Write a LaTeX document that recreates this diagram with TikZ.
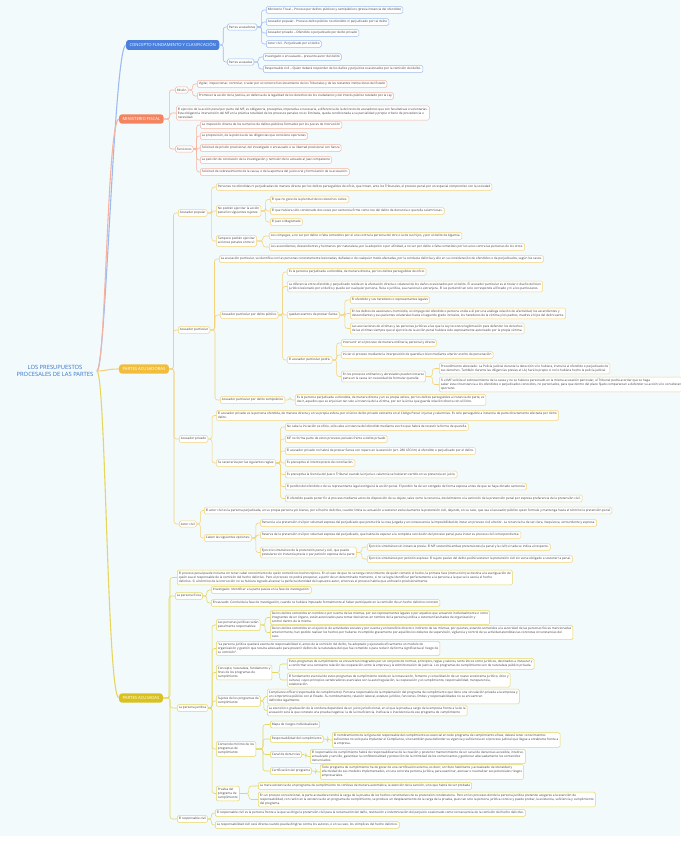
\documentclass[tikz,border=0pt]{standalone}
\usepackage{fontspec}
\setsansfont{Open Sans}
\usetikzlibrary{calc}

\begin{document}
\begin{tikzpicture}[
    x=1pt, y=-1pt,
    every node/.style={font=\sffamily},
    root/.style={align=center, text=rootcol, font=\sffamily\fontsize{5.8}{7.6}\selectfont},
    topic/.style={rounded corners=2.5pt, anchor=west, text=white, inner xsep=3.4pt,
        inner ysep=3pt, font=\sffamily\fontsize{4.2}{4.8}\selectfont},
    leaf/.style={draw, rounded corners=1.5pt, fill=white, line width=0.5pt, anchor=west,
        align=left, text=txtcol, inner xsep=1.6pt, inner ysep=1.9pt,
        font=\sffamily\fontsize{3.1}{4}\selectfont},
    link/.style={rounded corners=2.5pt, line width=0.55pt},
    trunk/.style={line width=1.1pt},
]

\definecolor{bgcol}{HTML}{F2FAFC}
\definecolor{txtcol}{HTML}{3A3A3A}
\definecolor{rootcol}{HTML}{3470C8}
\definecolor{cblue}{HTML}{4A80DC}     % topic fills
\definecolor{corange}{HTML}{F4845F}
\definecolor{cgold}{HTML}{F3BD3C}
\definecolor{cyell}{HTML}{D9C21F}
\definecolor{lblue}{HTML}{9DBBF0}     % lines and borders
\definecolor{lorange}{HTML}{F6B3A0}
\definecolor{lgold}{HTML}{F5D27A}
\definecolor{lyell}{HTML}{E6D65E}

\fill[bgcol] (0,0) rectangle (680,836);
\useasboundingbox (0,0) rectangle (680,848);

% ---------------------------------------------------------------- root and topics
\node[root] (root) at (55,371) {LOS PRESUPUESTOS\\PROCESALES DE LAS PARTES};

\node[topic, fill=cblue]   (concepto)   at (126,45)  {CONCEPTO FUNDAMENTO Y CLASIFICACIÓN};
\node[topic, fill=corange] (fiscal)     at (119,119) {MINISTERIO FISCAL};
\node[topic, fill=cgold]   (acusadoras) at (119,369) {PARTES ACUSADORAS};
\node[topic, fill=cyell]   (acusadas)   at (119,698) {PARTES ACUSADAS};

\foreach \t/\col in {concepto/lblue,fiscal/lorange,acusadoras/lgold,acusadas/lyell}
  \draw[trunk, \col] (root.east) .. controls +(9,0) and +(-12,0) .. (\t.west);

% ---------------------------------------------------------------- concepto
\begin{scope}[leaf/.append style={draw=lblue}]
  \node[leaf] (cAcusadoras) at (227,27) {Partes acusadoras};
  \node[leaf] (cFiscal) at (266,10) {Ministerio Fiscal – Proceso por delitos públicos y semipúblicos (previa instancia del ofendido)};
  \node[leaf] (cPopular) at (266,22) {Acusador popular - Proceso delito público no ofendido ni perjudicado por tal delito};
  \node[leaf] (cPrivado) at (266,33) {Acusador privado – Ofendido o perjudicado por delito privado};
  \node[leaf] (cCivil) at (266,44) {Actor civil - Perjudicado por el delito};
  \node[leaf] (cAcusadas) at (227,62) {Partes acusadas};
  \node[leaf] (cInvestigado) at (263,57) {Investigado o encausado – presunto autor del delito};
  \node[leaf] (cResponsable) at (263,69) {Responsable civil – Quien deberá responder de los daños y perjuicios ocasionados por la comisión del delito.};
\end{scope}

\foreach \p/\c in {concepto/cAcusadoras,concepto/cAcusadas,cAcusadoras/cFiscal,
    cAcusadoras/cPopular,cAcusadoras/cPrivado,cAcusadoras/cCivil,
    cAcusadas/cInvestigado,cAcusadas/cResponsable}
  \draw[link, lblue] (\p.east) -- ($(\p.east)!.5!(\p.east -| \c.west)$) |- (\c.west);

% ---------------------------------------------------------------- ministerio fiscal
\begin{scope}[leaf/.append style={draw=lorange}]
  \node[leaf] (mMision) at (175,90) {Misión};
  \node[leaf] (mVigilar) at (197,84) {Vigilar, inspeccionar, controlar, o velar por el correcto funcionamiento de los Tribunales y de las restantes instituciones del Estado};
  \node[leaf] (mPromover) at (197,96) {Promover la acción de la Justicia, en defensa de la legalidad de los derechos de los ciudadanos y del interés público tutelado por la Ley};
  \node[leaf] (mObligatoria) at (176,113) {El ejercicio de la acción penal por parte del MF, es obligatoria, preceptiva, imperativa o necesaria, a diferencia de la del resto de acusadores que son facultativas o voluntarias.\\
    Esta obligatoria intervención del MF en la práctica totalidad de los procesos penales no es ilimitada, queda condicionada a su parcialidad y propio criterio de procedencia o\\
    necesidad.};
  \node[leaf] (mFunciones) at (175,149) {Funciones};
  \node[leaf] (mInspeccion) at (200,125) {La inspección directa de los sumarios de delitos públicos formados por los Jueces de Instrucción};
  \node[leaf] (mProposicion) at (200,136) {La proposición, de la práctica de las diligencias que considere oportunas};
  \node[leaf] (mPrision) at (200,148) {Solicitud de prisión provisional, del investigado o encausado o su libertad provisional con fianza};
  \node[leaf] (mConclusion) at (200,160) {La petición de conclusión de la investigación y remisión de lo actuado al Juez competente};
  \node[leaf] (mSobreseimiento) at (200,172) {Solicitud de sobreseimiento de la causa, o de la apertura del juicio oral y formulación de la acusación.};
\end{scope}

\foreach \p/\c in {fiscal/mMision,fiscal/mObligatoria,fiscal/mFunciones,
    mMision/mVigilar,mMision/mPromover,mFunciones/mInspeccion,mFunciones/mProposicion,
    mFunciones/mPrision,mFunciones/mConclusion,mFunciones/mSobreseimiento}
  \draw[link, lorange] (\p.east) -- ($(\p.east)!.5!(\p.east -| \c.west)$) |- (\c.west);

% ---------------------------------------------------------------- partes acusadoras
\begin{scope}[leaf/.append style={draw=lgold}]
  % acusador popular
  \node[leaf] (aPopular) at (178,213) {Acusador popular};
  \node[leaf] (aPersonas) at (216,187) {Personas no ofendidas ni perjudicadas de manera directa por los delitos perseguibles de oficio, que instan, ante los Tribunales, el proceso penal por un especial compromiso con la sociedad};
  \node[leaf] (aNoPodran) at (216,211) {No podrán ejercitar la acción\\penal los siguientes sujetos:};
  \node[leaf] (aPlenitud) at (270,199.5) {El que no goce de la plenitud de los derechos civiles.};
  \node[leaf] (aCondenado) at (270,211) {El que hubiera sido condenado dos veces por sentencia firme como reo del delito de denuncia o querella calumniosas.};
  \node[leaf] (aJuez) at (270,222) {El Juez o Magistrado};
  \node[leaf] (aTampoco) at (216,241) {Tampoco podrán ejercitar\\acciones penales entre sí:};
  \node[leaf] (aConyuges) at (269,236) {Los cónyuges, a no ser por delito o falta cometidos por el uno contra la persona del otro o la de sus hijos, y por el delito de bigamia.};
  \node[leaf] (aAscendientes) at (269,247) {Los ascendientes, descendientes y hermanos por naturaleza, por la adopción o por afinidad, a no ser por delito o falta cometidos por los unos contra las personas de los otros.};

  % acusador particular
  \node[leaf] (aParticular) at (178,330) {Acusador particular};
  \node[leaf] (aIdentifica) at (219,259) {La acusación particular, se identifica con las personas concretamente lesionadas, dañadas o de cualquier modo afectadas, por la conducta delictiva y ello en su consideración de ofendidos o de perjudicados, según los casos.};
  \node[leaf] (aPublico) at (220,315) {Acusador particular por delito público};
  \node[leaf] (aPerjudicada) at (287,272) {Es la persona perjudicada u ofendida, de manera directa, por los delitos perseguibles de oficio};
  \node[leaf] (aDiferencia) at (287,286.5) {La diferencia entre ofendido y perjudicado reside en la afectación directa o colateral de los daños ocasionados por el delito. El acusador particular es el titular o dueño del bien\\
    jurídico lesionado por el delito y puede ser cualquier persona, física o jurídica, sea nacional o extranjera. El ius puniendi tan solo corresponde al Estado y ni a los particulares.};
  \node[leaf] (aExentos) at (287,315) {quedan exentos de prestar fianza:};
  \node[leaf] (aHerederos) at (350,300) {El ofendido y sus herederos o representantes legales};
  \node[leaf] (aHomicidio) at (350,313.5) {En los delitos de asesinato u homicidio, el cónyuge del ofendido o persona unida a él por una análoga relación de afectividad, los ascendientes y\\
    descendientes y sus parientes colaterales hasta el segundo grado inclusive, los herederos de la víctima y los padres, madres e hijos del delincuente.};
  \node[leaf] (aAsociaciones) at (350,328.5) {Las asociaciones de víctimas y las personas jurídicas a las que la Ley reconoce legitimación para defender los derechos\\
    de las víctimas siempre que el ejercicio de la acción penal hubiera sido expresamente autorizado por la propia víctima.};
  \node[leaf] (aPodra) at (287,360) {El acusador particular podrá:};
  \node[leaf] (aIntervenir) at (341,343) {Intervenir en el proceso de manera ordinaria, personal y directa};
  \node[leaf] (aIniciar) at (341,355) {Iniciar el proceso mediante la interposición de querella o bien mediante ulterior escrito de personación};
  \node[leaf] (aOrdinarios) at (341,376.5) {En los procesos ordinarios y abreviados pueden instarse\\parte en la causa sin necesidad de formular querella:};
  \node[leaf] (aAbreviado) at (439,368.5) {Procedimiento abreviado: La Policía Judicial durante la detección si lo hubiera, instruirá al ofendido o perjudicado de\\
    sus derechos. También durante las diligencias previas el LAJ hará lo propio si no lo hubiera hecho la policía judicial};
  \node[leaf] (aSobresee) at (439,384.5) {Si el MF solicita el sobreseimiento de la causa y no se hubiera personado en la misma acusación particular, el Tribunal podrá acordar que se haga\\
    saber esta circunstancia a los ofendidos o perjudicados conocidos, no personados, para que dentro del plazo fijado comparezcan a defender su acción si lo consideran\\
    oportuno.};
  \node[leaf] (aSemipublico) at (220,400) {Acusador particular por delito semipúblico};
  \node[leaf] (aInstancia) at (295,400) {Es la persona perjudicada u ofendida, de manera directa y en su propia esfera, por los delitos perseguibles a instancia de parte, es\\
    decir, aquellos que se enjuician tan solo a instancia de la víctima, por ser la única que guarda relación directa con el ilícito.};

  % acusador privado
  \node[leaf] (aPrivado) at (179,439) {Acusador privado};
  \node[leaf] (aInjurias) at (216,415.5) {El acusador privado es la persona ofendida, de manera directa y en su propia esfera, por el único delito privado existente en el Código Penal: injurias y calumnias. Es solo perseguible a instancia de parte directamente afectada por dicho\\
    delito.};
  \node[leaf] (aReglas) at (216,463) {Se caracteriza por las siguientes reglas:};
  \node[leaf] (aR1) at (285,427) {No cabe la iniciación ex oficio, sólo cabe a instancia del ofendido mediante escrito que habrá de revestir la forma de querella.};
  \node[leaf] (aR2) at (285,439) {MF no forma parte de estos procesos penales frente a delito privado};
  \node[leaf] (aR3) at (285,451) {El acusador privado no habrá de prestar fianza con reparo en la exención (art. 280 LECrim) al ofendido o perjudicado por el delito.};
  \node[leaf] (aR4) at (285,463) {Es preceptivo el intento previo de conciliación.};
  \node[leaf] (aR5) at (285,474.5) {Es preceptiva la licencia del Juez o Tribunal cuando la injuria o calumnia se hubieren vertido en su presencia en juicio.};
  \node[leaf] (aR6) at (285,486.5) {El perdón del ofendido o de su representante legal extinguirá la acción penal. El perdón ha de ser otorgado de forma expresa antes de que se haya dictado sentencia};
  \node[leaf] (aR7) at (285,498.5) {El ofendido puede poner fin al proceso mediante actos de disposición de su objeto, tales como la renuncia, desistimiento o la extinción de la pretensión penal por expresa preferencia de la pretensión civil.};

  % actor civil
  \node[leaf] (aCivil) at (179,524) {Actor civil};
  \node[leaf] (aCivilDef) at (204,510.5) {El actor civil es la persona perjudicada, en su propia persona y/o bienes, por el hecho delictivo, cuando limita su actuación a sostener exclusivamente la pretensión civil, dejando, en su caso, que sea el acusador público quien formule y mantenga hasta el término la pretensión penal};
  \node[leaf] (aOpciones) at (204,538) {Caben las siguientes opciones:};
  \node[leaf] (aRenuncia) at (260,523) {Renuncia a la pretensión civil por voluntad expresa del perjudicado que produciría la cosa juzgada y en consecuencia la imposibilidad de instar un proceso civil ulterior. La renuncia ha de ser clara, inequívoca, contundente y expresa.};
  \node[leaf] (aReserva) at (260,535) {Reserva de la pretensión civil por voluntad expresa del perjudicado, que habrá de esperar a la completa conclusión del proceso penal, para instar su proceso civil correspondiente.};
  \node[leaf] (aSimultaneo) at (260,552.5) {Ejercicio simultáneo de la pretensión penal y civil, que puede\\postularse sin instancia previa o por petición expresa de la parte};
  \node[leaf] (aSinInstancia) at (367,547) {Ejercicio simultáneo sin instancia previa: El MF sostendrá ambas pretensiones (la penal y la civil) si nada se indica al respecto.};
  \node[leaf] (aPeticion) at (367,559) {Ejercicio simultáneo por petición expresa: El sujeto pasivo del delito podrá sostener la pretensión civil sin verse obligado a sostener la penal.};
\end{scope}

\foreach \p/\c in {acusadoras/aPopular,acusadoras/aParticular,acusadoras/aPrivado,acusadoras/aCivil,
    aPopular/aPersonas,aPopular/aNoPodran,aPopular/aTampoco,
    aNoPodran/aPlenitud,aNoPodran/aCondenado,aNoPodran/aJuez,
    aTampoco/aConyuges,aTampoco/aAscendientes,
    aParticular/aIdentifica,aParticular/aPublico,aParticular/aSemipublico,
    aPublico/aPerjudicada,aPublico/aDiferencia,aPublico/aExentos,aPublico/aPodra,
    aExentos/aHerederos,aExentos/aHomicidio,aExentos/aAsociaciones,
    aPodra/aIntervenir,aPodra/aIniciar,aPodra/aOrdinarios,
    aOrdinarios/aAbreviado,aOrdinarios/aSobresee,aSemipublico/aInstancia,
    aPrivado/aInjurias,aPrivado/aReglas,
    aReglas/aR1,aReglas/aR2,aReglas/aR3,aReglas/aR4,aReglas/aR5,aReglas/aR6,aReglas/aR7,
    aCivil/aCivilDef,aCivil/aOpciones,aOpciones/aRenuncia,aOpciones/aReserva,
    aOpciones/aSimultaneo,aSimultaneo/aSinInstancia,aSimultaneo/aPeticion}
  \draw[link, lgold] (\p.east) -- ($(\p.east)!.5!(\p.east -| \c.west)$) |- (\c.west);

% ---------------------------------------------------------------- partes acusadas
\begin{scope}[leaf/.append style={draw=lyell}]
  \node[leaf] (dCabal) at (177,577.5) {El proceso penal puede iniciarse sin tener cabal conocimiento de quién cometió los hechos típicos. En el caso de que no se tenga conocimiento de quién cometió el hecho, la primera fase (instrucción) se destina a la averiguación de\\
    quién sea el responsable de la comisión del hecho delictivo. Pero el proceso no podrá prosperar, a partir de un determinado momento, si no se logra identificar perfectamente a la persona a la que se le asocia el hecho\\
    delictivo. Si al término de la instrucción no se hubiera logrado alcanzar la perfecta identidad del supuesto autor, entonces el proceso habría que archivarlo provisionalmente.};

  % persona fisica
  \node[leaf] (dFisica) at (175,596) {La persona física};
  \node[leaf] (dInvestigado) at (211,590) {Investigado: Identificar a la parte pasiva en la fase de investigación.};
  \node[leaf] (dEncausado) at (211,603) {Encausado: Concluida la fase de investigación, cuando se hubiera imputado formalmente al haber participado en la comisión de un hecho delictivo concreto};

  % persona juridica
  \node[leaf] (dJuridica) at (177,708) {La persona jurídica};
  \node[leaf] (dResponsables) at (216,625) {Las personas jurídicas serán\\penalmente responsables:};
  \node[leaf] (dNombre) at (270,617.5) {De los delitos cometidos en nombre o por cuenta de las mismas, por sus representantes legales o por aquellos que actuando individualmente o como\\
    integrantes de un órgano, están autorizados para tomar decisiones en nombre de la persona jurídica u ostentan facultades de organización y\\
    control dentro de la misma.};
  \node[leaf] (dActividades) at (270,632.5) {De los delitos cometidos en el ejercicio de actividades sociales y por cuenta y en beneficio directo o indirecto de las mismas, por quienes, estando sometidos a la autoridad de las personas físicas mencionadas\\
    anteriormente, han podido realizar los hechos por haberse incumplido gravemente por aquéllos los deberes de supervisión, vigilancia y control de su actividad atendidas las concretas circunstancias del\\
    caso.};
  \node[leaf] (dExenta) at (216,648.5) {“La persona jurídica quedará exenta de responsabilidad si, antes de la comisión del delito, ha adoptado y ejecutado eficazmente un modelo de\\
    organización y gestión que resulta adecuado para prevenir delitos de la naturaleza del que fue cometido o para reducir de forma significativa el riesgo de\\
    su comisión”.};
  \node[leaf] (dConcepto) at (216,672.5) {Concepto, naturaleza, fundamento y\\fines de los programas de\\cumplimiento};
  \node[leaf] (dNormas) at (287,664) {Estos programas de cumplimiento se encuentran integrados por un conjunto de normas, principios, reglas y valores, tanto éticos como jurídicos, destinados a instaurar y\\
    a conformar una constante relación de cooperación entre la empresa y la Administración de Justicia. Los programas de cumplimiento son de naturaleza público privada.};
  \node[leaf] (dFundamento) at (287,680) {El fundamento esencial de estos programas de cumplimiento reside en la instauración, fomento y consolidación de un nuevo ecosistema jurídico, ético y\\
    cultural, cuyos principios vertebradores esenciales son la autorregulación, la cooperación y el cumplimiento, responsabilidad, transparencia,\\
    colaboración.};
  \node[leaf] (dSujetos) at (216,701) {Sujetos de los programas de\\cumplimiento};
  \node[leaf] (dOfficer) at (267,696.5) {Compliance officer (responsable de cumplimiento): Persona responsable de la implantación del programa de cumplimiento que tiene una vinculación privada a la empresa y\\
    un compromiso público con el Estado. Su nombramiento, relación laboral, estatuto jurídico, funciones, límites y responsabilidades no se encuentran\\
    definidos legalmente.};
  \node[leaf] (dExencion) at (267,710.5) {La exención o graduación de la condena dependerá de un juicio jurisdiccional, en el que la prueba a cargo de la empresa frente a la de la\\
    acusación será la que constate una prueba negativa: la de la insuficiencia, ineficacia o inexistencia de ese programa de cumplimiento};
  \node[leaf] (dContenido) at (216,749) {Contenido mínimo de los\\programas de\\cumplimiento};
  \node[leaf] (dMapa) at (270,724.5) {Mapa de riesgos individualizado};
  \node[leaf] (dResponsabilidad) at (270,739) {Responsabilidad del cumplimiento};
  \node[leaf] (dNombramiento) at (332,740) {El nombramiento de la figura del responsable del cumplimiento es esencial en todo programa de cumplimiento eficaz, deberá tener conocimientos\\
    suficientes no solo para implantar el Compliance, sino también para defender su vigencia y suficiencia en el proceso judicial que llegue a entablarse frente a\\
    la empresa.};
  \node[leaf] (dCanal) at (270,754.5) {Canal de denuncias};
  \node[leaf] (dDenuncias) at (310,756.5) {El responsable de cumplimiento habrá de responsabilizarse de la creación y posterior mantenimiento de un canal de denuncias accesible, intuitivo,\\
    actualizado y sencillo, garantizar la confidencialidad y protección de la intimidad de los comunicantes y gestionar adecuadamente los contenidos\\
    denunciados.};
  \node[leaf] (dCertificacion) at (270,771) {Certificación del programa};
  \node[leaf] (dExterna) at (320,772) {Todo programa de cumplimiento ha de gozar de una certificación externa, es decir, un título habilitante y actualizado de idoneidad y\\
    efectividad de sus modelos implementados, en una concreta persona jurídica, para examinar, atenuar o neutralizar sus potenciales riesgos\\
    empresariales.};
  \node[leaf] (dPrueba) at (216,793.5) {Prueba del\\programa de\\cumplimiento};
  \node[leaf] (dMera) at (258,786) {La mera existencia de un programa de cumplimiento no conlleva de manera automática, la exención de la sanción, sino que habrá de ser probada};
  \node[leaf] (dCarga) at (258,799.5) {En un proceso convencional, la parte acusadora tendrá la carga de la prueba de los hechos constitutivos de su pretensión condenatoria. Pero en los procesos donde la persona jurídica pretende acogerse a la exención de\\
    responsabilidad, con razón en la existencia de un programa de cumplimiento, se produce un desplazamiento de la carga de la prueba, pues tan solo la persona jurídica conoce y puede probar, la existencia, suficiencia y cumplimiento\\
    del programa.};

  % responsable civil
  \node[leaf] (dCivil) at (177,819) {El responsable civil};
  \node[leaf] (dReclamacion) at (215,813) {El responsable civil es la persona frente a la que se dirige la pretensión civil para la reclamación del daño, restitución e indemnización del perjuicio ocasionado como consecuencia de la comisión del hecho delictivo.};
  \node[leaf] (dDirecta) at (215,825) {La responsabilidad civil será directa cuando pueda dirigirse contra los autores, o en su caso, los cómplices del hecho delictivo.};
\end{scope}

\foreach \p/\c in {acusadas/dCabal,acusadas/dFisica,acusadas/dJuridica,acusadas/dCivil,
    dFisica/dInvestigado,dFisica/dEncausado,
    dJuridica/dResponsables,dJuridica/dExenta,dJuridica/dConcepto,dJuridica/dSujetos,
    dJuridica/dContenido,dJuridica/dPrueba,
    dResponsables/dNombre,dResponsables/dActividades,dConcepto/dNormas,dConcepto/dFundamento,
    dSujetos/dOfficer,dSujetos/dExencion,
    dContenido/dMapa,dContenido/dResponsabilidad,dContenido/dCanal,dContenido/dCertificacion,
    dResponsabilidad/dNombramiento,dCanal/dDenuncias,dCertificacion/dExterna,
    dPrueba/dMera,dPrueba/dCarga,dCivil/dReclamacion,dCivil/dDirecta}
  \draw[link, lyell] (\p.east) -- ($(\p.east)!.5!(\p.east -| \c.west)$) |- (\c.west);

\end{tikzpicture}
\end{document}
